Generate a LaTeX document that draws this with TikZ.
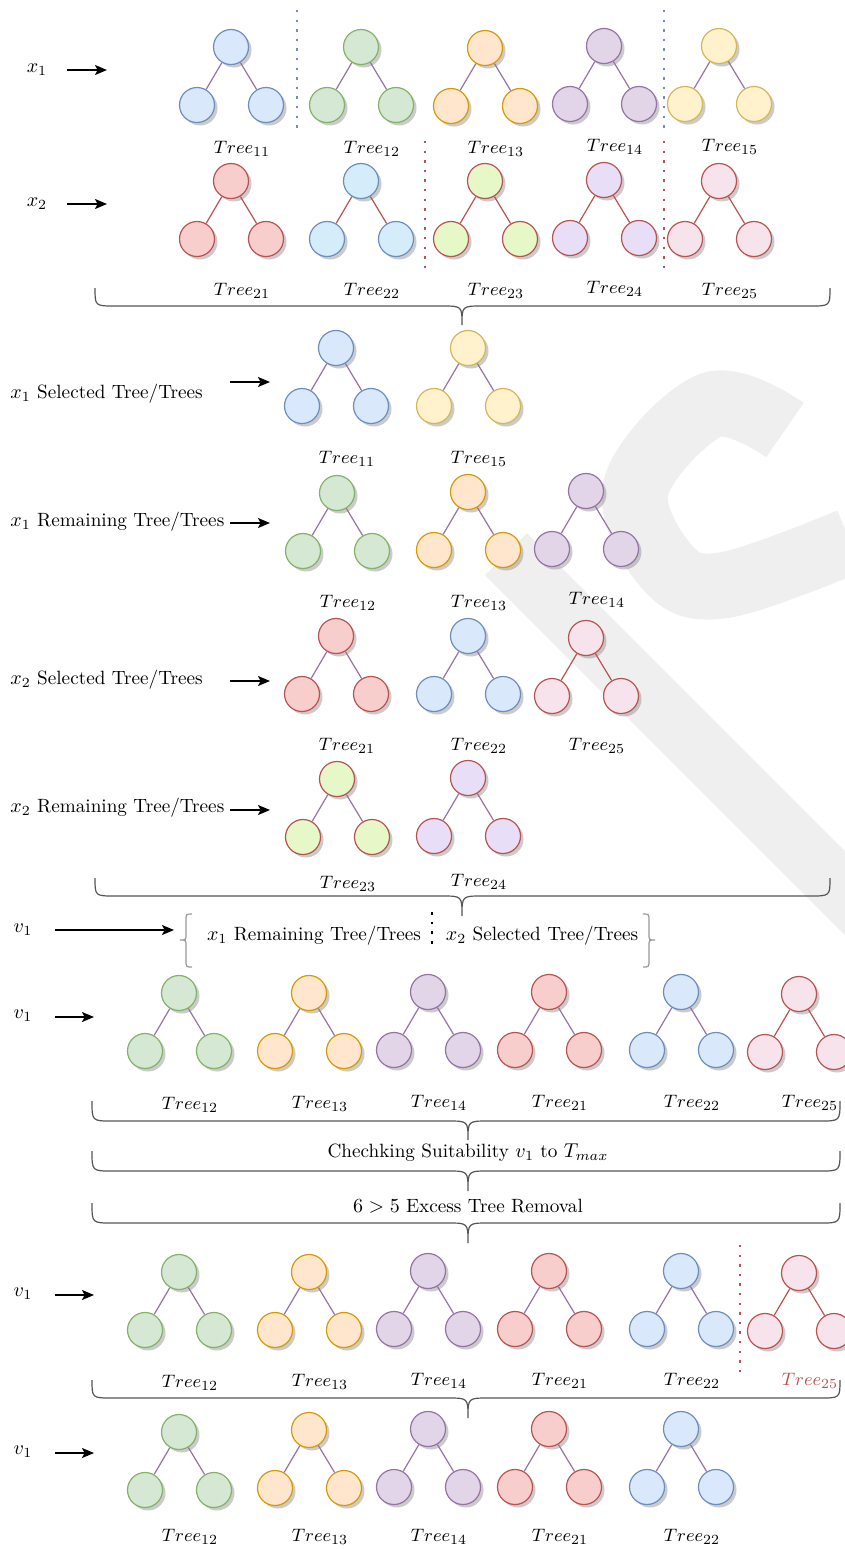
\documentclass[tikz,border=0pt]{standalone}
\usetikzlibrary{shadows,arrows.meta}
\definecolor{bF}{HTML}{DAE8FC}\definecolor{bD}{HTML}{6C8EBF}
\definecolor{gF}{HTML}{D5E8D4}\definecolor{gD}{HTML}{82B366}
\definecolor{oF}{HTML}{FFE6CC}\definecolor{oD}{HTML}{D79B00}
\definecolor{pF}{HTML}{E1D5E7}\definecolor{pD}{HTML}{9673A6}
\definecolor{yF}{HTML}{FFF2CC}\definecolor{yD}{HTML}{D6B656}
\definecolor{rF}{HTML}{F8CECC}\definecolor{rD}{HTML}{B85450}
\definecolor{cF}{HTML}{D5EDFB}
\definecolor{lF}{HTML}{E6F7C8}
\definecolor{vF}{HTML}{E9DEF7}
\definecolor{kF}{HTML}{F7E3EB}
\definecolor{brc}{HTML}{555555}
\definecolor{brg}{HTML}{999999}
\definecolor{wm}{HTML}{EFEFEF}
\tikzset{
  nd/.style={circle, minimum size=17.5pt, inner sep=0pt, line width=0.6pt,
    drop shadow={shadow xshift=1.5pt, shadow yshift=-1.5pt, fill=black!45, opacity=0.45}},
  Tb/.style={nd, fill=bF, draw=bD},
  Tg/.style={nd, fill=gF, draw=gD},
  To/.style={nd, fill=oF, draw=oD},
  Tp/.style={nd, fill=pF, draw=pD},
  Ty/.style={nd, fill=yF, draw=yD},
  Tr/.style={nd, fill=rF, draw=rD},
  Tc/.style={nd, fill=cF, draw=bD},
  Tl/.style={nd, fill=lF, draw=rD},
  Tv/.style={nd, fill=vF, draw=rD},
  Tk/.style={nd, fill=kF, draw=rD},
  pe/.style={draw=pD, line width=0.6pt},
  re/.style={draw=rD, line width=0.6pt},
  lbl/.style={inner sep=0pt, font=\fontsize{9.4}{11}\selectfont},
  txt/.style={inner sep=0pt, font=\fontsize{9.6}{11.5}\selectfont},
  arr/.style={-{Stealth[length=6pt, width=5pt, inset=1.3pt]}, line width=0.65pt},
  brl/.style={draw=brc, line width=0.6pt},
  brs/.style={draw=brg, line width=0.6pt},
  bdot/.style={draw=bD, line width=1pt, dash pattern=on 1.2pt off 3.6pt},
  rdot/.style={draw=rD, line width=1pt, dash pattern=on 1.2pt off 3.6pt},
  kdot/.style={draw=black, line width=1.4pt, dash pattern=on 1.4pt off 3.4pt}
}
\newcommand{\mytree}[7]{%
  \node[#4] (#1r) at (#2,#3) {};
  \node[#4] (#1a) at (#2-34,#3+58) {};
  \node[#4] (#1b) at (#2+35,#3+58) {};
  \draw[#5] (#1r) -- (#1a);
  \draw[#5] (#1r) -- (#1b);
  \node[lbl] (#1l) at (#2+11,#6) {#7};
}
\newcommand{\hbrace}[6]{%
  \draw[brl] (#1,#3) .. controls (#1,#4) .. (#1+20,#4) -- (#5-20,#4)
    .. controls (#5,#4) .. (#5,#6) .. controls (#5,#4) .. (#5+20,#4)
    -- (#2-20,#4) .. controls (#2,#4) .. (#2,#3);
}
\begin{document}
\begin{tikzpicture}[x=0.5pt, y=-0.5pt]
\useasboundingbox (0,0) rectangle (845,1549);
\fill[white] (0,0) rectangle (845,1549);
% faint background mark
\draw[wm, line width=33pt] plot[smooth, tension=0.6] coordinates {(785,430) (711,405) (636,487) (668,568) (725,585) (850,541)};
\fill[wm] (485,575) -- (527,533) -- (845,851) -- (845,935) -- cycle;

% ---------- Row 1 : x1 ----------
\node[txt] (lx1) at (37,70) {$x_1$};
\coordinate (s1) at (67,70); \coordinate (e1) at (107,70);
\draw[arr] (s1) -- (e1);
\mytree{ta}{231}{47}{Tb}{pe}{149}{$Tree_{11}$}
\mytree{tb}{361}{47}{Tg}{pe}{149}{$Tree_{12}$}
\mytree{tc}{485}{48}{To}{pe}{149}{$Tree_{13}$}
\mytree{td}{604}{46}{Tp}{pe}{147}{$Tree_{14}$}
\mytree{te}{719}{46}{Ty}{pe}{147}{$Tree_{15}$}
\coordinate (d1a) at (297,10); \coordinate (d1b) at (297,128);
\coordinate (d2a) at (664,10); \coordinate (d2b) at (664,128);
\draw[bdot] (d1a) -- (d1b);
\draw[bdot] (d2a) -- (d2b);

% ---------- Row 2 : x2 ----------
\node[txt] (lx2) at (37,204) {$x_2$};
\coordinate (s2) at (67,204); \coordinate (e2) at (107,204);
\draw[arr] (s2) -- (e2);
\mytree{tf}{231}{181}{Tr}{re}{291}{$Tree_{21}$}
\mytree{tg}{361}{181}{Tc}{re}{291}{$Tree_{22}$}
\mytree{th}{485}{181}{Tl}{re}{291}{$Tree_{23}$}
\mytree{ti}{604}{180}{Tv}{re}{289}{$Tree_{24}$}
\mytree{tj}{719}{181}{Tk}{re}{291}{$Tree_{25}$}
\coordinate (d3a) at (425,141); \coordinate (d3b) at (425,270);
\coordinate (d4a) at (664,141); \coordinate (d4b) at (664,270);
\draw[rdot] (d3a) -- (d3b);
\draw[rdot] (d4a) -- (d4b);

\hbrace{95}{830}{288}{306}{462}{325}

% ---------- Row 3 ----------
\node[txt, anchor=west] (l3) at (10,394) {$x_1$ Selected Tree/Trees};
\coordinate (s3) at (230,382); \coordinate (e3) at (270,382);
\draw[arr] (s3) -- (e3);
\mytree{tk}{336}{348}{Tb}{pe}{459}{$Tree_{11}$}
\mytree{tl}{468}{348}{Ty}{pe}{459}{$Tree_{15}$}

% ---------- Row 4 ----------
\node[txt, anchor=west] (l4) at (10,522) {$x_1$ Remaining Tree/Trees};
\coordinate (s4) at (230,523); \coordinate (e4) at (270,523);
\draw[arr] (s4) -- (e4);
\mytree{tm}{337}{493}{Tg}{pe}{603}{$Tree_{12}$}
\mytree{tn}{468}{492}{To}{pe}{603}{$Tree_{13}$}
\mytree{to}{586}{491}{Tp}{pe}{600}{$Tree_{14}$}

% ---------- Row 5 ----------
\node[txt, anchor=west] (l5) at (10,680) {$x_2$ Selected Tree/Trees};
\coordinate (s5) at (230,681); \coordinate (e5) at (270,681);
\draw[arr] (s5) -- (e5);
\mytree{tp}{336}{636}{Tr}{pe}{746}{$Tree_{21}$}
\mytree{tq}{468}{636}{Tb}{pe}{746}{$Tree_{22}$}
\mytree{tr}{586}{638}{Tk}{re}{746}{$Tree_{25}$}

% ---------- Row 6 ----------
\node[txt, anchor=west] (l6) at (10,808) {$x_2$ Remaining Tree/Trees};
\coordinate (s6) at (230,810); \coordinate (e6) at (270,810);
\draw[arr] (s6) -- (e6);
\mytree{ts}{337}{779}{Tl}{pe}{884}{$Tree_{23}$}
\mytree{tt}{468}{778}{Tv}{pe}{882}{$Tree_{24}$}

\hbrace{95}{830}{878}{896}{462}{916}

% ---------- Row 7 ----------
\node[txt] (lv7) at (23,930) {$v_1$};
\coordinate (s7) at (55,930); \coordinate (e7) at (174,930);
\draw[arr] (s7) -- (e7);
\draw[brs] (192,914) .. controls (186,914) .. (186,921) -- (186,934)
  .. controls (186,940) .. (180,940) .. controls (186,940) .. (186,946)
  -- (186,960) .. controls (186,967) .. (192,967);
\draw[brs] (643,914) .. controls (649,914) .. (649,921) -- (649,934)
  .. controls (649,940) .. (655,940) .. controls (649,940) .. (649,946)
  -- (649,960) .. controls (649,967) .. (643,967);
\node[txt] (m7a) at (314,936) {$x_1$ Remaining Tree/Trees};
\node[txt] (m7b) at (542,936) {$x_2$ Selected Tree/Trees};
\coordinate (d5a) at (432,912); \coordinate (d5b) at (432,950);
\draw[kdot] (d5a) -- (d5b);

% ---------- Row 8 ----------
\node[txt] (lv8) at (23,1016) {$v_1$};
\coordinate (s8) at (55,1017); \coordinate (e8) at (94,1017);
\draw[arr] (s8) -- (e8);
\mytree{u1}{179}{993}{Tg}{pe}{1105}{$Tree_{12}$}
\mytree{u2}{309}{993}{To}{pe}{1104}{$Tree_{13}$}
\mytree{u3}{428}{992}{Tp}{pe}{1103}{$Tree_{14}$}
\mytree{u4}{549}{992}{Tr}{pe}{1103}{$Tree_{21}$}
\mytree{u5}{681}{992}{Tb}{pe}{1103}{$Tree_{22}$}
\mytree{u6}{799}{994}{Tk}{re}{1103}{$Tree_{25}$}

\hbrace{92}{840}{1101}{1121}{468}{1140}
\node[txt] (chk) at (468,1153) {Chechking Suitability $v_1$ to $T_{max}$};
\hbrace{92}{840}{1151}{1171}{468}{1191}
\node[txt] (exc) at (468,1206) {$6>5$ Excess Tree Removal};
\hbrace{92}{840}{1203}{1223}{468}{1243}

% ---------- Row 9 ----------
\node[txt] (lv9) at (23,1294) {$v_1$};
\coordinate (s9) at (55,1295); \coordinate (e9) at (94,1295);
\draw[arr] (s9) -- (e9);
\mytree{w1}{179}{1272}{Tg}{pe}{1383}{$Tree_{12}$}
\mytree{w2}{309}{1272}{To}{pe}{1382}{$Tree_{13}$}
\mytree{w3}{428}{1271}{Tp}{pe}{1381}{$Tree_{14}$}
\mytree{w4}{549}{1271}{Tr}{pe}{1381}{$Tree_{21}$}
\mytree{w5}{681}{1271}{Tb}{pe}{1381}{$Tree_{22}$}
\mytree{w6}{799}{1273}{Tk}{re}{1381}{\textcolor{rD}{$Tree_{25}$}}
\coordinate (d6a) at (740,1245); \coordinate (d6b) at (740,1376);
\draw[rdot] (d6a) -- (d6b);

\hbrace{92}{840}{1380}{1398}{468}{1418}

% ---------- Row 10 ----------
\node[txt] (lv10) at (23,1452) {$v_1$};
\coordinate (s10) at (55,1453); \coordinate (e10) at (94,1453);
\draw[arr] (s10) -- (e10);
\mytree{z1}{179}{1432}{Tg}{pe}{1537}{$Tree_{12}$}
\mytree{z2}{309}{1430}{To}{pe}{1537}{$Tree_{13}$}
\mytree{z3}{428}{1429}{Tp}{pe}{1537}{$Tree_{14}$}
\mytree{z4}{549}{1429}{Tr}{pe}{1537}{$Tree_{21}$}
\mytree{z5}{681}{1429}{Tb}{pe}{1537}{$Tree_{22}$}
\end{tikzpicture}
\end{document}
